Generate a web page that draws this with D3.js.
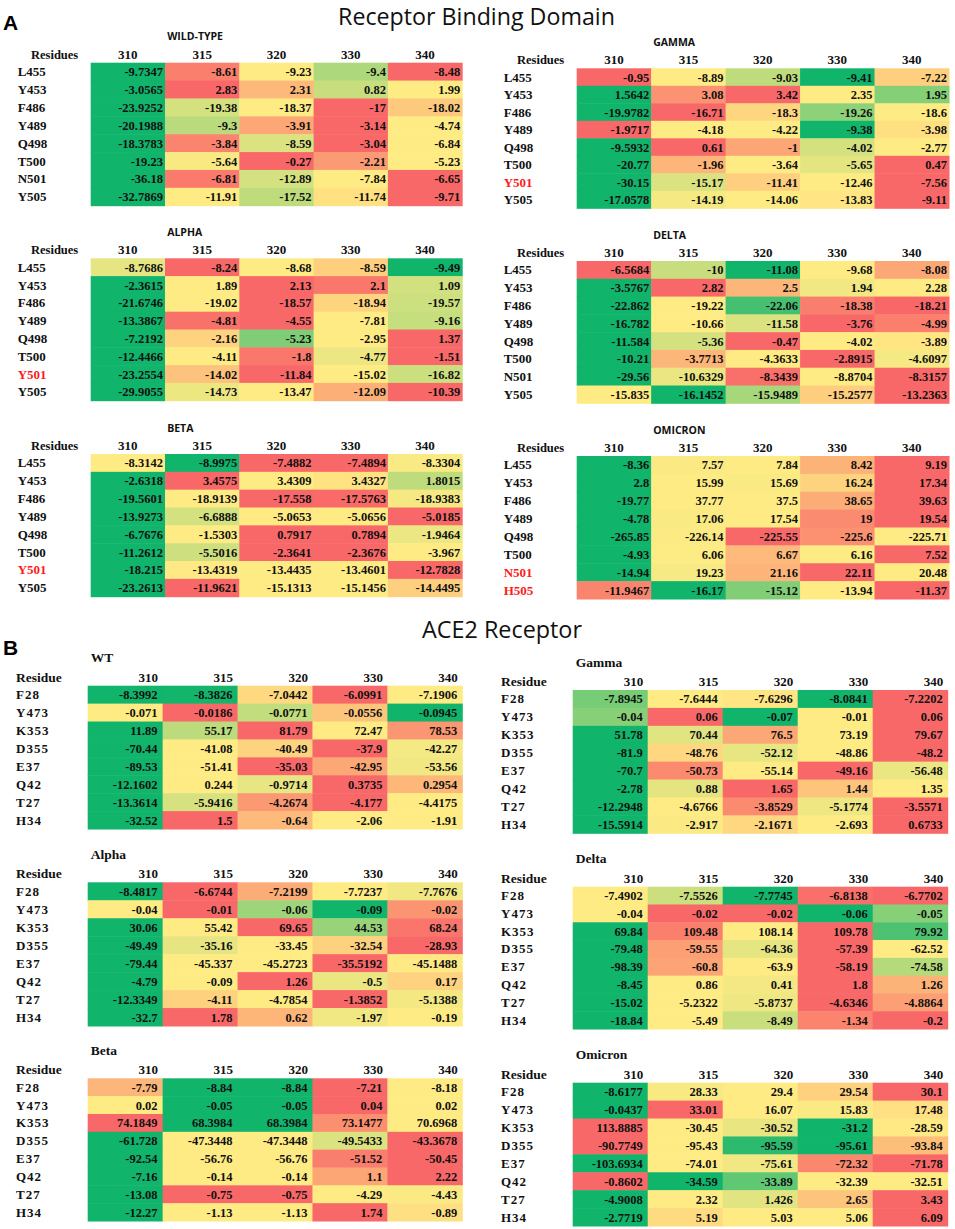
<!DOCTYPE html>
<html>
<head>
<meta charset="utf-8">
<script src="https://cdn.jsdelivr.net/npm/d3@7/dist/d3.min.js"></script>
<style>
	body { margin:0; background:#fff; }
	svg { display:block; }
</style>
</head>
<body>
<svg id="chart" width="955" height="1229"></svg>
<script>
// ---- DATA ----
const temps = ['310','315','320','330','340'];

const rbdResidues        = ['L455','Y453','F486','Y489','Q498','T500','N501','Y505'];
const rbdResiduesY501    = ['L455','Y453','F486','Y489','Q498','T500','Y501','Y505'];
const rbdResiduesOmicron = ['L455','Y453','F486','Y489','Q498','T500','N501','H505'];
const ace2Residues       = ['F28','Y473','K353','D355','E37','Q42','T27','H34'];

const markY501    = ['Y501'];
const markOmicron = ['N501','H505'];

const rbdWildType = [
	[-9.7347, -8.61, -9.23, -9.4, -8.48],
	[-3.0565, 2.83, 2.31, 0.82, 1.99],
	[-23.9252, -19.38, -18.37, -17, -18.02],
	[-20.1988, -9.3, -3.91, -3.14, -4.74],
	[-18.3783, -3.84, -8.59, -3.04, -6.84],
	[-19.23, -5.64, -0.27, -2.21, -5.23],
	[-36.18, -6.81, -12.89, -7.84, -6.65],
	[-32.7869, -11.91, -17.52, -11.74, -9.71]
];
const rbdAlpha = [
	[-8.7686, -8.24, -8.68, -8.59, -9.49],
	[-2.3615, 1.89, 2.13, 2.1, 1.09],
	[-21.6746, -19.02, -18.57, -18.94, -19.57],
	[-13.3867, -4.81, -4.55, -7.81, -9.16],
	[-7.2192, -2.16, -5.23, -2.95, 1.37],
	[-12.4466, -4.11, -1.8, -4.77, -1.51],
	[-23.2554, -14.02, -11.84, -15.02, -16.82],
	[-29.9055, -14.73, -13.47, -12.09, -10.39]
];
const rbdBeta = [
	[-8.3142, -8.9975, -7.4882, -7.4894, -8.3304],
	[-2.6318, 3.4575, 3.4309, 3.4327, 1.8015],
	[-19.5601, -18.9139, -17.558, -17.5763, -18.9383],
	[-13.9273, -6.6888, -5.0653, -5.0656, -5.0185],
	[-6.7676, -1.5303, 0.7917, 0.7894, -1.9464],
	[-11.2612, -5.5016, -2.3641, -2.3676, -3.967],
	[-18.215, -13.4319, -13.4435, -13.4601, -12.7828],
	[-23.2613, -11.9621, -15.1313, -15.1456, -14.4495]
];
const rbdGamma = [
	[-0.95, -8.89, -9.03, -9.41, -7.22],
	[1.5642, 3.08, 3.42, 2.35, 1.95],
	[-19.9782, -16.71, -18.3, -19.26, -18.6],
	[-1.9717, -4.18, -4.22, -9.38, -3.98],
	[-9.5932, 0.61, -1, -4.02, -2.77],
	[-20.77, -1.96, -3.64, -5.65, 0.47],
	[-30.15, -15.17, -11.41, -12.46, -7.56],
	[-17.0578, -14.19, -14.06, -13.83, -9.11]
];
const rbdDelta = [
	[-6.5684, -10, -11.08, -9.68, -8.08],
	[-3.5767, 2.82, 2.5, 1.94, 2.28],
	[-22.862, -19.22, -22.06, -18.38, -18.21],
	[-16.782, -10.66, -11.58, -3.76, -4.99],
	[-11.584, -5.36, -0.47, -4.02, -3.89],
	[-10.21, -3.7713, -4.3633, -2.8915, -4.6097],
	[-29.56, -10.6329, -8.3439, -8.8704, -8.3157],
	[-15.835, -16.1452, -15.9489, -15.2577, -13.2363]
];
const rbdOmicron = [
	[-8.36, 7.57, 7.84, 8.42, 9.19],
	[2.8, 15.99, 15.69, 16.24, 17.34],
	[-19.77, 37.77, 37.5, 38.65, 39.63],
	[-4.78, 17.06, 17.54, 19, 19.54],
	[-265.85, -226.14, -225.55, -225.6, -225.71],
	[-4.93, 6.06, 6.67, 6.16, 7.52],
	[-14.94, 19.23, 21.16, 22.11, 20.48],
	[-11.9467, -16.17, -15.12, -13.94, -11.37]
];

const ace2WT = [
	[-8.3992, -8.3826, -7.0442, -6.0991, -7.1906],
	[-0.071, -0.0186, -0.0771, -0.0556, -0.0945],
	[11.89, 55.17, 81.79, 72.47, 78.53],
	[-70.44, -41.08, -40.49, -37.9, -42.27],
	[-89.53, -51.41, -35.03, -42.95, -53.56],
	[-12.1602, 0.244, -0.9714, 0.3735, 0.2954],
	[-13.3614, -5.9416, -4.2674, -4.177, -4.4175],
	[-32.52, 1.5, -0.64, -2.06, -1.91]
];
const ace2Alpha = [
	[-8.4817, -6.6744, -7.2199, -7.7237, -7.7676],
	[-0.04, -0.01, -0.06, -0.09, -0.02],
	[30.06, 55.42, 69.65, 44.53, 68.24],
	[-49.49, -35.16, -33.45, -32.54, -28.93],
	[-79.44, -45.337, -45.2723, -35.5192, -45.1488],
	[-4.79, -0.09, 1.26, -0.5, 0.17],
	[-12.3349, -4.11, -4.7854, -1.3852, -5.1388],
	[-32.7, 1.78, 0.62, -1.97, -0.19]
];
const ace2Beta = [
	[-7.79, -8.84, -8.84, -7.21, -8.18],
	[0.02, -0.05, -0.05, 0.04, 0.02],
	[74.1849, 68.3984, 68.3984, 73.1477, 70.6968],
	[-61.728, -47.3448, -47.3448, -49.5433, -43.3678],
	[-92.54, -56.76, -56.76, -51.52, -50.45],
	[-7.16, -0.14, -0.14, 1.1, 2.22],
	[-13.08, -0.75, -0.75, -4.29, -4.43],
	[-12.27, -1.13, -1.13, 1.74, -0.89]
];
const ace2Gamma = [
	[-7.8945, -7.6444, -7.6296, -8.0841, -7.2202],
	[-0.04, 0.06, -0.07, -0.01, 0.06],
	[51.78, 70.44, 76.5, 73.19, 79.67],
	[-81.9, -48.76, -52.12, -48.86, -48.2],
	[-70.7, -50.73, -55.14, -49.16, -56.48],
	[-2.78, 0.88, 1.65, 1.44, 1.35],
	[-12.2948, -4.6766, -3.8529, -5.1774, -3.5571],
	[-15.5914, -2.917, -2.1671, -2.693, 0.6733]
];
const ace2Delta = [
	[-7.4902, -7.5526, -7.7745, -6.8138, -6.7702],
	[-0.04, -0.02, -0.02, -0.06, -0.05],
	[69.84, 109.48, 108.14, 109.78, 79.92],
	[-79.48, -59.55, -64.36, -57.39, -62.52],
	[-98.39, -60.8, -63.9, -58.19, -74.58],
	[-8.45, 0.86, 0.41, 1.8, 1.26],
	[-15.02, -5.2322, -5.8737, -4.6346, -4.8864],
	[-18.84, -5.49, -8.49, -1.34, -0.2]
];
const ace2Omicron = [
	[-8.6177, 28.33, 29.4, 29.54, 30.1],
	[-0.0437, 33.01, 16.07, 15.83, 17.48],
	[113.8885, -30.45, -30.52, -31.2, -28.59],
	[-90.7749, -95.43, -95.59, -95.61, -93.84],
	[-103.6934, -74.01, -75.61, -72.32, -71.78],
	[-0.8602, -34.59, -33.89, -32.39, -32.51],
	[-4.9008, 2.32, 1.426, 2.65, 3.43],
	[-2.7719, 5.19, 5.03, 5.06, 6.09]
];

// ---- STYLE / LAYOUT ----
const GREEN = '#10b46b', YELLOW = '#ffeb84', RED = '#f96868';
const SERIF = '"Liberation Serif","Times New Roman",serif';
const SANS  = '"Open Sans","Liberation Sans",sans-serif';

// section A: centred headers, sans-serif caps titles
const styleA = { head:'Residues', headDx:-59.7, labDx:-73, headAnchor:'middle', valInset:2,
	titleFont:SANS, titleSize:10.5, titleWeight:700, titleDx:76.5, titleDy:-22.5, labSpacing:0 };
// section B: right aligned headers, serif titles
const styleB = { head:'Residue', headDx:-71.7, labDx:-71.7, headAnchor:'end', valInset:5,
	titleFont:SERIF, titleSize:13.5, titleWeight:700, titleDx:3, titleDy:-23.5, labSpacing:1 };

const tables = [
	{ title:'WILD-TYPE', rows:rbdResidues,        vals:rbdWildType, mark:[],          x:90.7,  y:62.7,  w:371.5, h:143,   st:styleA },
	{ title:'ALPHA',     rows:rbdResiduesY501,    vals:rbdAlpha,    mark:markY501,    x:90.7,  y:258.3, w:371.5, h:142.4, st:styleA },
	{ title:'BETA',      rows:rbdResiduesY501,    vals:rbdBeta,     mark:markY501,    x:90.7,  y:454,   w:371.5, h:142.7, st:styleA },
	{ title:'GAMMA',     rows:rbdResiduesY501,    vals:rbdGamma,    mark:markY501,    x:576.7, y:68.3,  w:372.3, h:140,   st:styleA },
	{ title:'DELTA',     rows:rbdResidues,        vals:rbdDelta,    mark:[],          x:576.7, y:261,   w:372.3, h:142.3, st:styleA },
	{ title:'OMICRON',   rows:rbdResiduesOmicron, vals:rbdOmicron,  mark:markOmicron, x:576.7, y:456,   w:372.3, h:143,   st:styleA },
	{ title:'WT',        rows:ace2Residues, vals:ace2WT,      mark:[], x:87.7,  y:685.7,  w:374.6, h:143.3, st:styleB },
	{ title:'Alpha',     rows:ace2Residues, vals:ace2Alpha,   mark:[], x:87.7,  y:882.3,  w:374.6, h:143.7, st:styleB },
	{ title:'Beta',      rows:ace2Residues, vals:ace2Beta,    mark:[], x:87.7,  y:1078.3, w:374.6, h:142.7, st:styleB },
	{ title:'Gamma',     rows:ace2Residues, vals:ace2Gamma,   mark:[], x:572.7, y:690,    w:375,   h:143.3, st:styleB },
	{ title:'Delta',     rows:ace2Residues, vals:ace2Delta,   mark:[], x:572.7, y:886.7,  w:375,   h:142.3, st:styleB },
	{ title:'Omicron',   rows:ace2Residues, vals:ace2Omicron, mark:[], x:572.7, y:1082.7, w:375,   h:143.3, st:styleB }
];

const svg = d3.select('svg#chart');

// shrink/grow a text's font-size so that it spans the given width
function fitText(sel, width) {
	const len = sel.node().getComputedTextLength();
	sel.attr('font-size', parseFloat(sel.attr('font-size')) * width / len);
}

// Panel letters and section titles
svg.append('text').attr('x',3).attr('y',30).attr('font-family','"Liberation Sans",Arial,sans-serif')
	.attr('font-weight',700).attr('font-size',21).text('A');
svg.append('text').attr('x',3).attr('y',655).attr('font-family','"Liberation Sans",Arial,sans-serif')
	.attr('font-weight',700).attr('font-size',21).text('B');

const t1 = svg.append('text').attr('x',476.5).attr('y',24.5).attr('text-anchor','middle')
	.attr('font-family',SANS).attr('font-size',23).attr('fill','#111').text('Receptor Binding Domain');
fitText(t1, 277);
const t2 = svg.append('text').attr('x',502).attr('y',638).attr('text-anchor','middle')
	.attr('font-family',SANS).attr('font-size',23).attr('fill','#111').text('ACE2 Receptor');
fitText(t2, 160);

// colour scale per row: green = lowest, yellow = median, red = highest
function rowScale(row) {
	return d3.scaleLinear()
		.domain([d3.min(row), d3.median(row), d3.max(row)])
		.range([GREEN, YELLOW, RED])
		.clamp(true);
}

function drawTable(t) {
	const st = t.st;
	const g = svg.append('g');
	const x = d3.scaleBand().domain(temps).range([t.x, t.x + t.w]);
	const y = d3.scaleBand().domain(t.rows).range([t.y, t.y + t.h]);
	
	const cells = t.vals.flatMap((row, i) => {
		const color = rowScale(row);
		return row.map((v, j) => ({ res:t.rows[i], temp:temps[j], v:v, fill:color(v) }));
	});
	
	g.selectAll('rect').data(cells)
		.enter().append('rect')
			.attr('x', d => x(d.temp))
			.attr('y', d => y(d.res))
			.attr('width', x.bandwidth() + 0.5)
			.attr('height', y.bandwidth() + 0.5)
			.attr('fill', d => d.fill);
	
	g.selectAll('text.val').data(cells)
		.enter().append('text')
			.attr('class','val')
			.attr('x', d => x(d.temp) + x.bandwidth() - st.valInset)
			.attr('y', d => y(d.res) + y.bandwidth()/2 + 4.5)
			.attr('text-anchor','end')
			.attr('font-family', SERIF).attr('font-weight',700).attr('font-size',12.5)
			.attr('fill','#111')
			.text(d => String(d.v));
	
	// row labels
	g.selectAll('text.lab').data(t.rows)
		.enter().append('text')
			.attr('class','lab')
			.attr('x', t.x + st.labDx)
			.attr('y', d => y(d) + y.bandwidth()/2 + 4.5)
			.attr('font-family', SERIF).attr('font-weight',700).attr('font-size',13)
			.attr('letter-spacing', st.labSpacing)
			.attr('fill', d => t.mark.indexOf(d) >= 0 ? '#ff1a1a' : '#111')
			.text(d => d);
	
	// column headers
	const headY = t.y - 4.2;
	g.selectAll('text.head').data(temps)
		.enter().append('text')
			.attr('class','head')
			.attr('x', d => st.headAnchor === 'middle' ? x(d) + x.bandwidth()/2 : x(d) + x.bandwidth() - 4.5)
			.attr('y', headY)
			.attr('text-anchor', st.headAnchor)
			.attr('font-family', SERIF).attr('font-weight',700).attr('font-size',13)
			.attr('fill','#111')
			.text(d => d);
	
	g.append('text')
		.attr('x', t.x + st.headDx).attr('y', headY)
		.attr('font-family', SERIF).attr('font-weight',700)
		.attr('font-size', st === styleA ? 12.5 : 13.5)
		.attr('fill','#111')
		.text(st.head);
	
	// table title
	g.append('text')
		.attr('x', t.x + st.titleDx).attr('y', t.y + st.titleDy)
		.attr('font-family', st.titleFont).attr('font-weight', st.titleWeight)
		.attr('font-size', st.titleSize)
		.attr('fill','#111')
		.text(t.title);
}

tables.forEach(drawTable);
</script>
</body>
</html>
